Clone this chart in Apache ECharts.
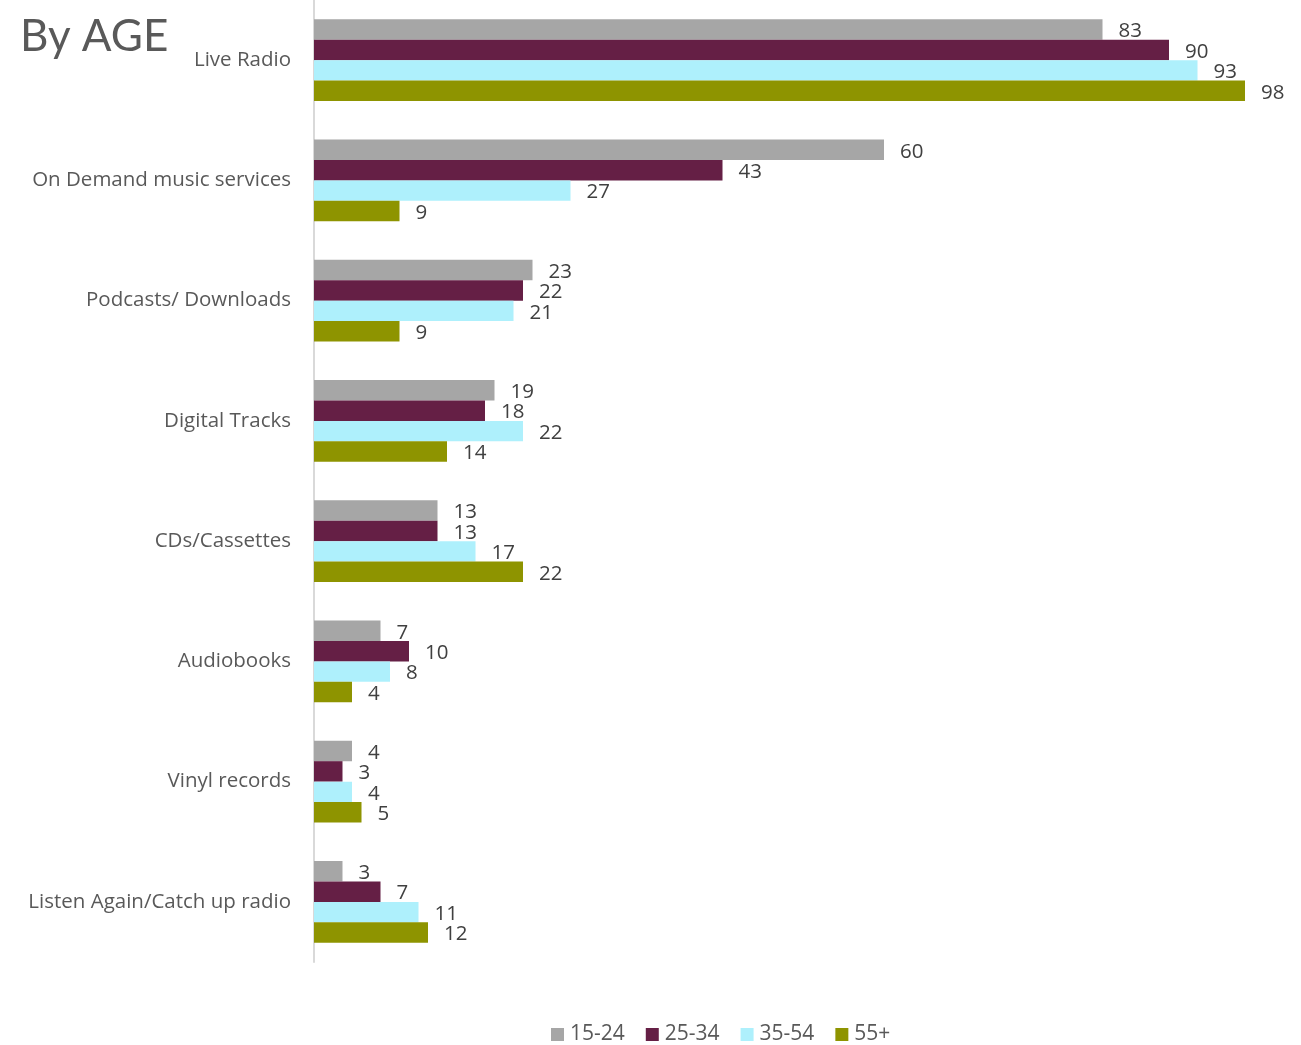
<!DOCTYPE html>
<html>
<head>
<meta charset="utf-8">
<title>By AGE</title>
<script src="https://cdn.jsdelivr.net/npm/echarts@6/dist/echarts.min.js"></script>
<style>
  html, body { margin: 0; padding: 0; background: #ffffff; }
  #chart { width: 1301px; height: 1045px; }
</style>
</head>
<body>
<div id="chart"></div>
<script>
// Listening channels used, by age group (%)
const categories = [
  'Live Radio',
  'On Demand music services',
  'Podcasts/ Downloads',
  'Digital Tracks',
  'CDs/Cassettes',
  'Audiobooks',
  'Vinyl records',
  'Listen Again/Catch up radio'
];
const ageGroups = ['15-24', '25-34', '35-54', '55+'];
const age15to24 = [83, 60, 23, 19, 13, 7, 4, 3];
const age25to34 = [90, 43, 22, 18, 13, 10, 3, 7];
const age35to54 = [93, 27, 21, 22, 17, 8, 4, 11];
const age55plus = [98, 9, 9, 14, 22, 4, 5, 12];

const seriesValues = [age15to24, age25to34, age35to54, age55plus];
const colors = ['#a6a6a6', '#651f45', '#aef0fc', '#8e9400'];

const textFont = 'Open Sans';

const chart = echarts.init(document.getElementById('chart'), null, { renderer: 'canvas' });

const option = {
  animation: false,
  backgroundColor: '#ffffff',
  title: {
    text: 'By AGE',
    left: 15,
    top: 10,
    textStyle: {
      fontFamily: 'Lato',
      fontWeight: 'normal',
      fontSize: 44,
      color: '#595959'
    }
  },
  legend: {
    data: ageGroups,
    left: 546,
    top: 1019,
    icon: 'rect',
    itemWidth: 13,
    itemHeight: 13,
    itemGap: 21,
    textStyle: { fontFamily: textFont, fontSize: 21, color: '#595959', padding: [0, 0, 0, 1] }
  },
  grid: { left: 314, top: 0, width: 950, height: 962 },
  xAxis: {
    type: 'value',
    min: 0,
    max: 100,
    show: false,
    splitLine: { show: false }
  },
  yAxis: {
    type: 'category',
    data: categories,
    inverse: true,
    axisLine: { show: true, lineStyle: { color: '#d9d9d9', width: 2 } },
    axisTick: { show: false },
    axisLabel: {
      margin: 23,
      fontFamily: textFont,
      fontSize: 20.5,
      color: '#595959'
    }
  },
  series: seriesValues.map((vals, i) => ({
    name: ageGroups[i],
    type: 'bar',
    data: vals,
    barGap: '0%',
    barCategoryGap: '32%',
    itemStyle: { color: colors[i] },
    label: {
      show: true,
      position: 'right',
      distance: 16,
      offset: [0, 2],
      fontFamily: textFont,
      fontSize: 20.5,
      color: '#404040'
    }
  }))
};

chart.setOption(option);
</script>
</body>
</html>
